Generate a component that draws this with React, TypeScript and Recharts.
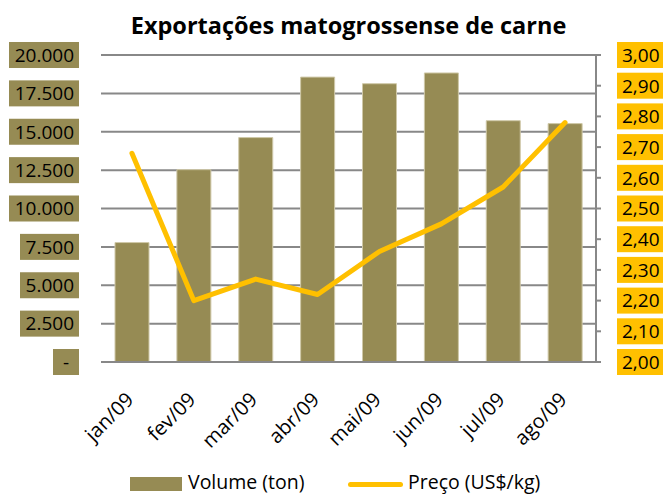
import React from "react";
import { ComposedChart, Bar, Line, XAxis, YAxis, CartesianGrid } from "recharts";

const months = ["jan/09", "fev/09", "mar/09", "abr/09", "mai/09", "jun/09", "jul/09", "ago/09"];
const volume = [7780, 12530, 14620, 18560, 18130, 18830, 15720, 15530];
const price = [2.68, 2.2, 2.27, 2.22, 2.36, 2.45, 2.57, 2.78];
const volumeTicks = [0, 2500, 5000, 7500, 10000, 12500, 15000, 17500, 20000];
const priceTicks = [2.0, 2.1, 2.2, 2.3, 2.4, 2.5, 2.6, 2.7, 2.8, 2.9, 3.0];
const seriesNames = ["Volume (ton)", "Preço (US$/kg)"];
const title = "Exportações matogrossense de carne";

const OLIVE = "#968B54";
const GOLD = "#FFC000";
const GRID = "#888888";
const FONT = "'Open Sans', sans-serif";

const data = months.map((m, i) => ({ month: m, volume: volume[i], price: price[i] }));

const fmtVol = (v: number) => (v === 0 ? "-" : v.toLocaleString("de-DE"));
const fmtPrice = (v: number) => v.toFixed(2).replace(".", ",");

function LeftTick({ x, y, payload }: any) {
  const label = fmtVol(payload.value);
  const digits = label.replace(/\D/g, "").length;
  const w = label === "-" ? 26 : digits * 11 + 15;
  return (
    <g>
      <rect x={x - w} y={y - 13} width={w} height={26} fill={OLIVE} />
      <text
        x={label === "-" ? x - w / 2 : x - 5}
        y={y}
        dy="0.36em"
        textAnchor={label === "-" ? "middle" : "end"}
        fontSize={19}
        fontFamily={FONT}
        fill="#000"
      >
        {label}
      </text>
    </g>
  );
}

function RightTick({ x, y, payload }: any) {
  return (
    <g>
      <rect x={x} y={y - 13} width={50} height={26} fill={GOLD} />
      <text x={x + 5} y={y} dy="0.36em" textAnchor="start" fontSize={19} fontFamily={FONT} fill="#000">
        {fmtPrice(payload.value)}
      </text>
    </g>
  );
}

function MonthTick({ x, y, payload }: any) {
  return (
    <text
      x={x + 3}
      y={y}
      textAnchor="end"
      fontSize={20}
      fontFamily={FONT}
      fill="#000"
      transform={`rotate(-45, ${x + 3}, ${y})`}
    >
      {payload.value}
    </text>
  );
}

export default function App() {
  return (
    <div style={{ position: "absolute", left: 0, top: 0, width: 663, height: 495, background: "#fff", fontFamily: FONT }}>
      <div
        style={{
          position: "absolute",
          left: 0,
          top: 9,
          width: 697,
          textAlign: "center",
          fontSize: 23.5,
          fontWeight: 700,
          color: "#000",
          whiteSpace: "nowrap",
        }}
      >
        {title}
      </div>
      <ComposedChart width={663} height={495} data={data} margin={{ top: 55, right: 0, bottom: 53, left: 0 }}>
        <CartesianGrid yAxisId="left" vertical={false} stroke={GRID} strokeWidth={2} />
        <XAxis
          dataKey="month"
          height={80}
          tickLine={false}
          axisLine={{ stroke: GRID, strokeWidth: 2 }}
          tick={<MonthTick />}
          tickSize={0}
          tickMargin={39}
          interval={0}
        />
        <YAxis
          yAxisId="left"
          width={101}
          domain={[0, 20000]}
          ticks={volumeTicks}
          tick={<LeftTick />}
          tickLine={false}
          axisLine={false}
          tickSize={0}
          tickMargin={22}
          interval={0}
        />
        <YAxis
          yAxisId="right"
          orientation="right"
          width={67}
          domain={[2, 3]}
          ticks={priceTicks}
          tick={<RightTick />}
          tickLine={{ stroke: GRID, strokeWidth: 2 }}
          axisLine={{ stroke: GRID, strokeWidth: 2 }}
          tickSize={5}
          tickMargin={16}
          interval={0}
        />
        <Bar yAxisId="left" dataKey="volume" fill={OLIVE} stroke="#cfc8a8" strokeWidth={1} barSize={34} isAnimationActive={false} />
        <Line
          yAxisId="right"
          dataKey="price"
          type="linear"
          stroke={GOLD}
          strokeWidth={5}
          strokeLinecap="round"
          strokeLinejoin="round"
          dot={false}
          activeDot={false}
          isAnimationActive={false}
        />
      </ComposedChart>
      <div style={{ position: "absolute", left: 0, top: 470, width: 663, height: 24, fontSize: 19.5, color: "#000", lineHeight: "24px" }}>
        <span style={{ position: "absolute", left: 130, top: 7, width: 52, height: 14, background: OLIVE }} />
        <span style={{ position: "absolute", left: 188, top: 0, whiteSpace: "nowrap" }}>{seriesNames[0]}</span>
        <span style={{ position: "absolute", left: 348, top: 11.5, width: 55, height: 5, borderRadius: 3, background: GOLD }} />
        <span style={{ position: "absolute", left: 408, top: 0, whiteSpace: "nowrap" }}>{seriesNames[1]}</span>
      </div>
    </div>
  );
}
